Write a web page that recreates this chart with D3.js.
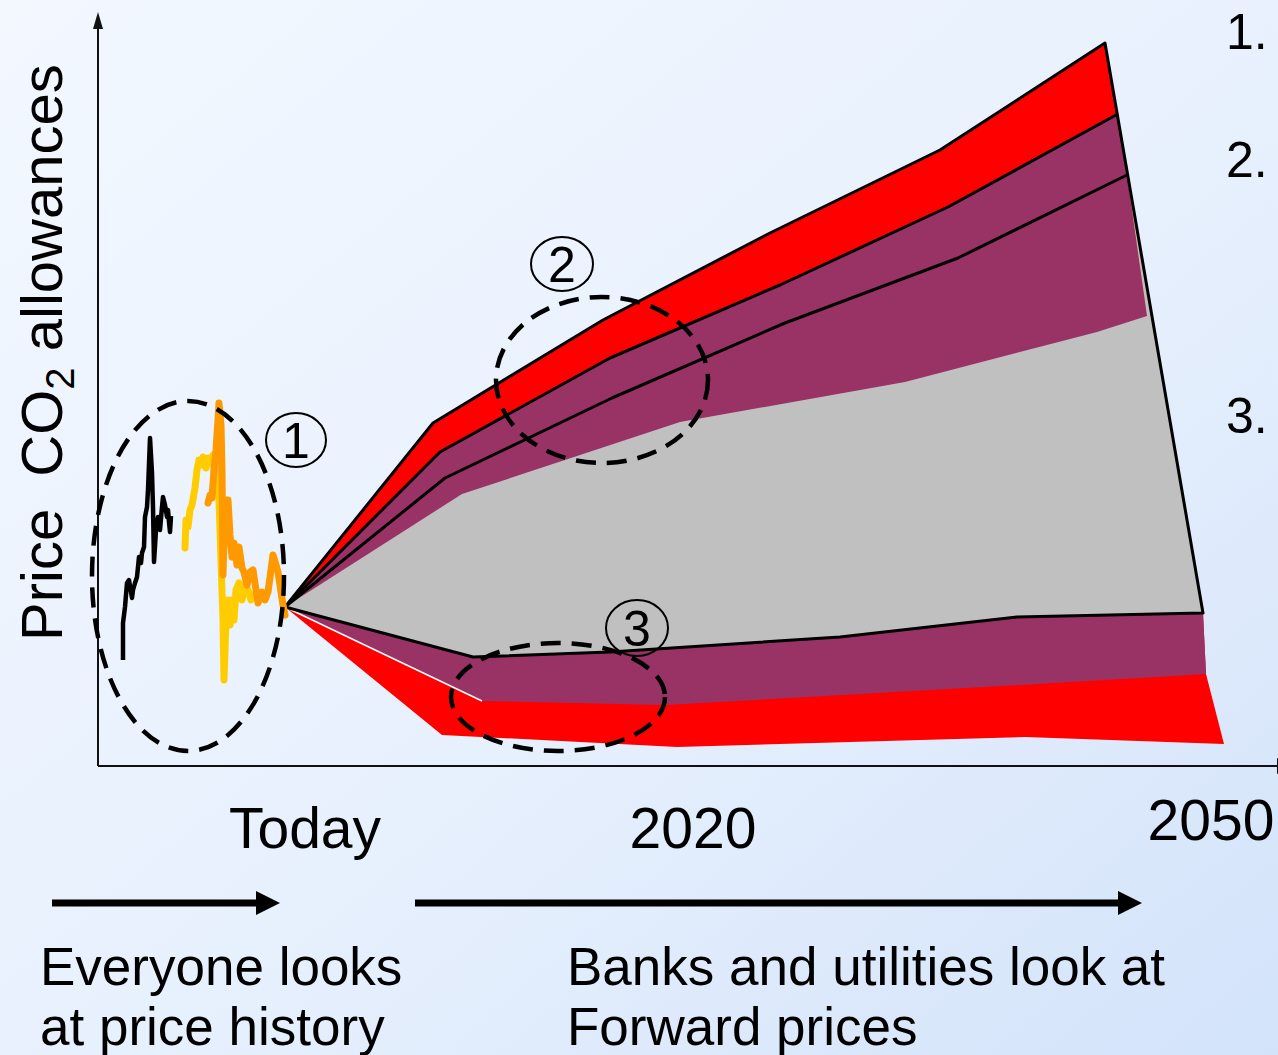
<!DOCTYPE html>
<html>
<head>
<meta charset="utf-8">
<script src="https://cdn.jsdelivr.net/npm/d3@7"></script>
<style>
  html, body { margin: 0; padding: 0; background: #fff; }
  svg { display: block; }
  text { font-family: "Liberation Sans", Arial, sans-serif; fill: #000; }
</style>
</head>
<body>
<div id="chart"></div>
<script>
// 1: DATA (chart units: x = time from axis origin, y = price above the x axis)
const blackHistory = [[25,106],[25,143],[27,159],[29,183],[31,186],[33,174],[34,168],[35,176],[37,183],[39,189],
  [41,209],[43,203],[44,213],[46,219],[47,249],[49,259],[50,276],[52,328],[54,293],[55,259],[56,204],[58,236],
  [60,249],[62,236],[64,259],[65,269],[67,261],[69,249],[70,256],[71,244],[72,234],[73,250]];
const yellowHistory = [[87,218],[88,246],[90,239],[92,256],[94,261],[97,278],[99,296],[101,306],[103,301],[105,309],
  [108,298],[110,308],[113,304],[115,311],[117,286],[119,306],[121,266],[123,206],[125,146],[126,86],[128,146],
  [130,166],[132,141],[134,166],[136,146],[138,176],[141,183],[144,166],[147,181],[150,176],[153,166],[155,171]];
const orangeHistory = [[110,263],[112,271],[114,268],[116,296],[118,316],[120,346],[121,363],[123,341],[124,296],
  [125,191],[127,266],[130,266],[132,231],[134,209],[136,223],[139,201],[141,219],[144,198],[146,194],[149,181],
  [152,194],[155,196],[158,176],[160,163],[164,174],[167,166],[170,174],[173,196],[175,211],[178,201],[180,194],
  [183,174],[185,161],[187,151]];

// forward price scenarios (all start at "today")
const upperOuter   = [[187,159],[335,343],[505,446],[672,533],[842,616],[1007,723]];
const upperMid     = [[187,159],[342,314],[512,408],[682,481],[850,559],[1018,651]];
const upperInner   = [[187,159],[347,288],[514,368],[687,443],[860,508],[1029,591]];
const grayTop      = [[187,159],[364,272],[582,344],[807,384],[999,434],[1049,450]];
const grayBottom   = [[187,159],[375,109],[512,114],[742,129],[919,149],[1105,153]];
const purpleBottom = [[187,159],[384,65],[567,61],[922,81],[1108,92]];
const redBottom    = [[187,159],[344,31],[579,19],[927,29],[1126,22]];
const grayEdge     = [1054,450];   // where the gray band meets the outline on the right

// dashed highlight ellipses and circled markers: [cx, cy, rx, ry]
const highlights = [[90,190,96,175],[504,386,106,83],[460,69,107,54]];
const markers = [{ label: "1", c: [198,326,30,27] }, { label: "2", c: [464,502,31,27] }, { label: "3", c: [539,138,31,28] }];

const scenarioLabels = ["1.", "2.", "3."];
const scenarioLabelY = [49, 177, 433];
const timeLabels = ["Today", "2020", "2050"];
const timeLabelX = [305, 693, 1211];
const timeLabelY = [848, 848, 840];

// 2: SETUP
const W = 1278, H = 1055;
const svg = d3.select("#chart").append("svg").attr("width", W).attr("height", H);

const defs = svg.append("defs");
const grad = defs.append("linearGradient").attr("id", "bg")
  .attr("x1", "0%").attr("y1", "0%").attr("x2", "100%").attr("y2", "100%");
grad.append("stop").attr("offset", "0%").attr("stop-color", "#f3f8ff");
grad.append("stop").attr("offset", "55%").attr("stop-color", "#e7f0fd");
grad.append("stop").attr("offset", "100%").attr("stop-color", "#d3e3fa");
svg.append("rect").attr("width", W).attr("height", H).attr("fill", "url(#bg)");

const x = d3.scaleLinear().domain([0, 1180]).range([98, 1278]);
const y = d3.scaleLinear().domain([0, 754]).range([766, 12]);

const line = d3.line().x(d => x(d[0])).y(d => y(d[1]));
const poly = pts => line(pts) + "Z";

// 3: FAN BANDS
const ends = p => p[p.length - 1];
const redPoly = [...upperOuter, ends(grayBottom), ends(purpleBottom), ...redBottom.slice().reverse()];
const purplePoly = [...upperMid, ends(upperInner), ends(grayTop), ends(grayBottom), ends(purpleBottom),
  ...purpleBottom.slice().reverse()];
const grayPoly = [...grayTop, ends(upperInner), grayEdge, ends(grayBottom), ...grayBottom.slice().reverse()];

svg.append("path").attr("d", poly(redPoly)).attr("fill", "#ff0000");
svg.append("path").attr("d", poly(purplePoly)).attr("fill", "#993366");
svg.append("path").attr("d", poly(grayPoly)).attr("fill", "#c0c0c0");

// outlines
svg.append("path").attr("d", line(purpleBottom.slice(0, 2)))
  .attr("fill", "none").attr("stroke", "#fff").attr("stroke-width", 1.5);
svg.append("path").attr("d", line([...upperOuter, ...grayBottom.slice().reverse()]))
  .attr("fill", "none").attr("stroke", "#000").attr("stroke-width", 3).attr("stroke-linejoin", "round");
[upperMid, upperInner].forEach(s => {
  svg.append("path").attr("d", line(s))
    .attr("fill", "none").attr("stroke", "#000").attr("stroke-width", 3).attr("stroke-linejoin", "round");
});

// 4: PRICE HISTORY
svg.append("path").attr("d", line(blackHistory))
  .attr("fill", "none").attr("stroke", "#000").attr("stroke-width", 4.5).attr("stroke-linejoin", "round");
svg.append("path").attr("d", line(yellowHistory))
  .attr("fill", "none").attr("stroke", "#ffcc00").attr("stroke-width", 7)
  .attr("stroke-linejoin", "round").attr("stroke-linecap", "round");
svg.append("path").attr("d", line(orangeHistory))
  .attr("fill", "none").attr("stroke", "#ff9900").attr("stroke-width", 7)
  .attr("stroke-linejoin", "round").attr("stroke-linecap", "round");

// 5: AXES (arrows)
const axisColor = "#111";
svg.append("line").attr("x1", x(0)).attr("y1", y(0)).attr("x2", x(0)).attr("y2", y(740))
  .attr("stroke", axisColor).attr("stroke-width", 2);
svg.append("path")
  .attr("d", `M${x(0)},${y(754)} L${x(0) - 5},${y(737)} L${x(0) + 5},${y(737)} Z`).attr("fill", axisColor);
svg.append("line").attr("x1", x(0)).attr("y1", y(0)).attr("x2", x(1180)).attr("y2", y(0))
  .attr("stroke", axisColor).attr("stroke-width", 2);
svg.append("path")
  .attr("d", `M${x(1179)},${y(0) - 8} L${x(1195)},${y(0)} L${x(1179)},${y(0) + 8} Z`).attr("fill", axisColor);

// 6: HIGHLIGHTS
svg.selectAll("ellipse.hl").data(highlights).enter().append("ellipse")
  .attr("class", "hl")
  .attr("cx", d => x(d[0])).attr("cy", d => y(d[1]))
  .attr("rx", d => x(d[2]) - x(0)).attr("ry", d => y(0) - y(d[3]))
  .attr("fill", "none").attr("stroke", "#000").attr("stroke-width", 4.5)
  .attr("stroke-dasharray", "20,11");

const mk = svg.selectAll("g.marker").data(markers).enter().append("g").attr("class", "marker");
mk.append("ellipse")
  .attr("cx", d => x(d.c[0])).attr("cy", d => y(d.c[1]))
  .attr("rx", d => x(d.c[2]) - x(0)).attr("ry", d => y(0) - y(d.c[3]))
  .attr("fill", "none").attr("stroke", "#000").attr("stroke-width", 2);
mk.append("text")
  .attr("x", d => x(d.c[0])).attr("y", d => y(d.c[1]) + 18)
  .attr("text-anchor", "middle").style("font-size", "50px")
  .text(d => d.label);

// 7: LABELS
svg.selectAll("text.scen").data(scenarioLabels).enter().append("text")
  .attr("class", "scen").attr("x", 1226).attr("y", (d, i) => scenarioLabelY[i])
  .style("font-size", "50px").text(d => d);

svg.selectAll("text.time").data(timeLabels).enter().append("text")
  .attr("class", "time").attr("x", (d, i) => timeLabelX[i]).attr("y", (d, i) => timeLabelY[i])
  .attr("text-anchor", "middle").style("font-size", "57px").text(d => d);

const ylab = svg.append("text")
  .attr("transform", "translate(62,641) rotate(-90)")
  .style("font-size", "58px").style("white-space", "pre");
ylab.append("tspan").text("Price  CO");
ylab.append("tspan").attr("dy", 12).style("font-size", "40px").text("2");
ylab.append("tspan").attr("dy", -12).text(" allowances");

// bottom arrows
const arrows = [[52, 280], [415, 1142]];
arrows.forEach(a => {
  svg.append("line").attr("x1", a[0]).attr("y1", 903).attr("x2", a[1] - 20).attr("y2", 903)
    .attr("stroke", "#000").attr("stroke-width", 7);
  svg.append("path").attr("d", `M${a[1]},903 L${a[1] - 24},891 L${a[1] - 24},915 Z`).attr("fill", "#000");
});

const notes = [
  { x: 40, lines: ["Everyone looks", "at price history"] },
  { x: 567, lines: ["Banks and utilities look at", "Forward prices"] }
];
notes.forEach(n => {
  n.lines.forEach((t, i) => {
    svg.append("text").attr("x", n.x).attr("y", 985 + i * 60)
      .style("font-size", "53px").text(t);
  });
});
</script>
</body>
</html>
